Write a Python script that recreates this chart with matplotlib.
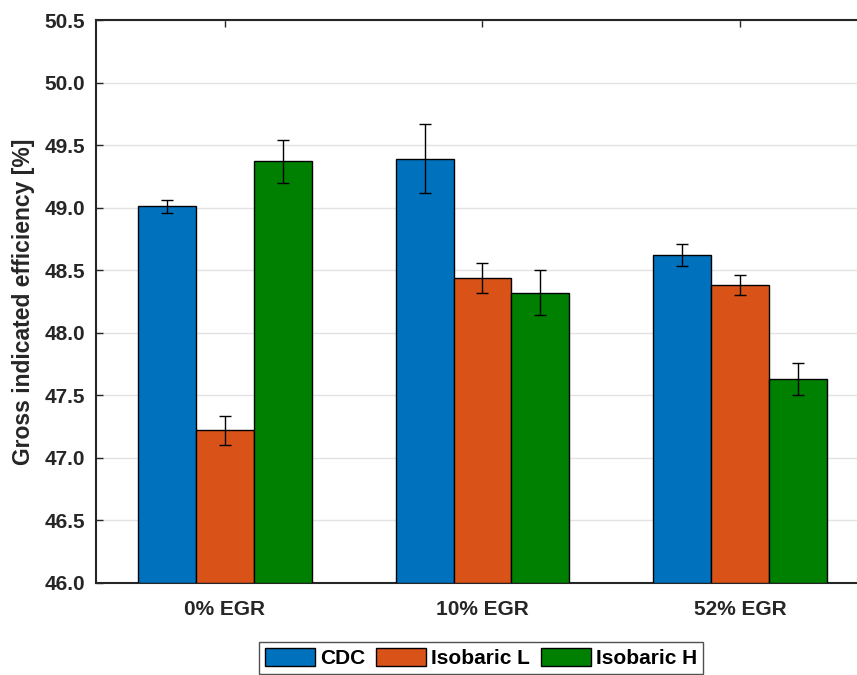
import numpy as np
import matplotlib
matplotlib.use("Agg")
import matplotlib.pyplot as plt
from matplotlib.ticker import FormatStrFormatter

plt.rcParams['font.family'] = ['Liberation Sans', 'DejaVu Sans']
plt.rcParams['font.weight'] = 'bold'

# data
groups = ['0% EGR', '10% EGR', '52% EGR']
series = ['CDC', 'Isobaric L', 'Isobaric H']
cdc = [49.01, 49.39, 48.62]
iso_l = [47.22, 48.44, 48.38]
iso_h = [49.37, 48.32, 47.63]
cdc_err = [0.05, 0.275, 0.09]
iso_l_err = [0.115, 0.12, 0.08]
iso_h_err = [0.17, 0.18, 0.13]

colors = ['#0072BD', '#D95319', '#008000']

fig = plt.figure(figsize=(8.57, 6.75), dpi=100)
ax = fig.add_axes([96/857, 92/675, (869-96)/857, (583-20)/675])

x = np.arange(1, len(groups) + 1)
w = 0.225
vals = [cdc, iso_l, iso_h]
errs = [cdc_err, iso_l_err, iso_h_err]
for i, (v, e) in enumerate(zip(vals, errs)):
    pos = x + (i - 1) * w
    ax.bar(pos, np.array(v) - 46.0, w, bottom=46.0, color=colors[i],
           edgecolor='black', linewidth=1.0, label=series[i], zorder=3)
    ax.errorbar(pos, v, yerr=e, fmt='none', ecolor='black', elinewidth=1.0,
                capsize=4, capthick=1.0, zorder=4)

ax.set_ylim(46.0, 50.5)
ax.set_xlim(0.5, 3.5)
ax.set_yticks(np.arange(46.0, 50.51, 0.5))
ax.yaxis.set_major_formatter(FormatStrFormatter('%.1f'))
ax.set_xticks(x)
ax.set_xticklabels(groups)
ax.tick_params(direction='in', top=True, length=5, width=1, labelsize=15,
               colors='#262626')
ax.tick_params(axis='y', pad=8)
ax.tick_params(axis='x', pad=12)
ax.set_ylabel('Gross indicated efficiency [%]', fontsize=16.5,
              fontweight='bold', color='#262626', labelpad=7)
ax.grid(axis='y', color='#e3e3e3', linewidth=1.0, zorder=0)
ax.set_axisbelow(True)
for s in ['left', 'bottom', 'top']:
    ax.spines[s].set_linewidth(1.5)
    ax.spines[s].set_color('#262626')
ax.spines['right'].set_visible(False)

leg = fig.legend(loc='upper center', bbox_to_anchor=(481/857, 1 - 642/675),
                 ncol=3, fontsize=15, frameon=True, fancybox=False,
                 handlelength=2.4, handleheight=0.9, handletextpad=0.25,
                 columnspacing=0.5, borderpad=0.3, borderaxespad=0)
leg.get_frame().set_edgecolor('#262626')
leg.get_frame().set_linewidth(1.0)

fig.savefig('out.png', dpi=100, facecolor='white')
